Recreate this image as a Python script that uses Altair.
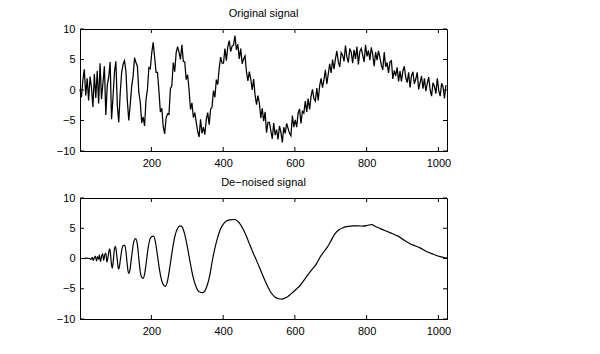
import altair as alt
import pandas as pd

FONT = "Liberation Sans"

# ---- data ----
titles = ["Original signal", "De\u2212noised signal"]
x_ticks = [200, 400, 600, 800, 1000]
y_ticks = [-10, -5, 0, 5, 10]

# noisy original signal, sampled every 4th index (1, 5, 9, ... 1021)
original_signal = [
    0.1, -1.2, 1.6, 3.4, -0.9, 1.9, -1.7, 2.2, 0.4, -2.8, 2.6, -1.3, 3.1, -2.2, 4.4, -1.5,
    1.2, 3.9, -4.1, 0.8, 2.1, 4.6, -4.8, -1.2, 2.9, 4.7, -2.5, -5.3, -0.6, 2.8, 4.2, 4.8,
    3.1, -1.8, -5.0, -2.4, 0.6, 2.2, 5.3, 4.5, 3.9, -0.4, -2.0, -5.4, -4.4, -5.9, -1.6, 0.1,
    3.7, 3.5, 6.1, 7.8, 5.4, 2.9, 2.9, -0.1, -3.6, -3.0, -6.0, -7.2, -4.6, -3.9, -4.0, 0.2,
    0.7, 4.5, 3.0, 6.1, 7.1, 6.2, 5.0, 7.4, 4.7, 4.6, 1.7, 2.5, 0.0, -3.2, -2.1, -4.5,
    -3.7, -5.3, -6.8, -7.7, -4.8, -7.1, -6.1, -7.3, -4.8, -3.7, -5.7, -3.2, -2.8, -0.1, -1.2, 1.7,
    0.9, 3.6, 5.4, 4.4, 4.4, 6.8, 4.8, 7.1, 8.1, 6.3, 7.2, 7.4, 8.9, 6.6, 7.5, 5.1,
    6.8, 4.3, 5.1, 5.6, 3.0, 1.5, 3.0, 1.8, 0.0, 1.8, -0.8, -2.4, -0.9, -2.2, -4.6, -3.0,
    -5.1, -3.6, -7.0, -5.3, -5.3, -6.7, -8.0, -5.4, -7.4, -6.5, -8.1, -5.9, -6.9, -8.6, -6.1, -7.1,
    -5.5, -6.3, -7.1, -7.5, -4.2, -6.1, -4.9, -6.1, -3.8, -3.1, -5.5, -3.5, -3.8, -1.8, -3.6, -1.4,
    -3.2, -1.1, 0.1, -1.4, -1.8, 0.3, -1.7, 0.7, 1.9, 0.4, 1.7, 3.3, 1.0, 2.6, 4.3, 2.8,
    5.0, 3.4, 5.1, 6.4, 4.6, 3.8, 6.1, 5.7, 4.7, 7.3, 5.4, 4.5, 6.8, 6.2, 4.4, 6.6,
    5.1, 7.1, 4.2, 6.3, 6.8, 5.7, 4.6, 7.4, 5.5, 6.5, 4.9, 7.0, 5.8, 3.9, 6.2, 4.9,
    6.4, 5.3, 4.1, 3.3, 6.2, 3.8, 4.5, 2.8, 4.6, 4.8, 1.8, 3.2, 2.3, 3.7, 1.4, 3.1,
    1.4, 3.1, 3.9, 2.0, 1.2, 2.9, 0.4, 2.3, 3.0, 1.0, 1.8, 2.9, 0.1, 1.2, 2.3, 0.2,
    1.9, -0.2, 1.1, 2.1, 0.0, -1.0, 1.2, 0.6, -0.6, 1.9, -0.1, -1.0, 1.1, 0.5, -1.4, 0.8,
]
orig_index = list(range(1, 1024, 4))

# de-noised signal: sample index and value
den_x = [1, 10, 20, 28, 32, 35, 38, 41, 44, 47, 50, 53, 55, 58, 61, 64, 67, 70, 73, 76,
         79, 82, 84, 86, 88, 91, 93, 95, 97, 99.5, 102, 105, 107, 109, 111, 114, 118, 121, 125.6, 129,
         132, 135, 137, 140, 143, 147, 151, 156, 161, 165, 169, 173, 177, 181, 186, 191, 196, 200, 206, 211,
         217, 223, 229, 234, 239, 245, 252, 259, 266, 273, 280, 285, 292, 300, 308, 316, 324, 333, 343, 352,
         362, 371, 382, 393, 405, 418, 432, 445, 458, 470, 483, 495, 507, 520, 532, 545, 555, 563, 575, 590,
         605, 614, 630, 645, 661, 670, 682, 693, 703, 712, 722, 735, 748, 760, 775, 791, 803, 814, 825, 840,
         856, 872, 888, 905, 921, 935, 949, 965, 986, 1005, 1024]
den_y = [0.0, 0.0, 0.05, 0.0, -0.15, 0.2, -0.3, 0.1, 0.4, -0.4, 0.3, -0.1, 0.6, -0.5, 0.3, 0.8, -0.3, 0.6, 0.9, -0.6,
         0.2, 1.3, 1.6, 0.8, -0.6, -1.6, -0.8, 0.4, 1.6, 2.0, 1.3, -0.3, -1.4, -1.75, -1.3, 0.0, 1.6, 2.1, 2.2, 1.2,
         -0.6, -2.1, -2.5, -2.0, -0.6, 1.3, 2.8, 3.3, 2.3, 0.0, -2.2, -3.1, -3.3, -2.6, -0.5, 1.8, 3.2, 3.6, 3.7, 2.8,
         0.5, -2.0, -3.7, -4.4, -4.6, -3.7, -1.2, 1.6, 3.8, 5.0, 5.4, 5.3, 4.2, 2.0, -0.6, -3.0, -4.6, -5.5, -5.65, -5.0,
         -3.0, 0.0, 2.9, 4.9, 6.0, 6.4, 6.45, 5.9, 4.6, 2.9, 1.0, -0.6, -2.3, -4.1, -5.5, -6.4, -6.65, -6.7, -6.5, -5.8,
         -5.0, -4.5, -3.2, -2.0, -0.8, 0.2, 1.2, 2.1, 3.2, 4.1, 4.7, 5.1, 5.3, 5.4, 5.4, 5.35, 5.5, 5.6, 5.3, 4.9,
         4.5, 4.1, 3.7, 3.0, 2.45, 2.1, 1.75, 1.2, 0.7, 0.3, 0.05]

assert len(original_signal) == len(orig_index)
assert len(den_x) == len(den_y)

orig_df = pd.DataFrame({"x": orig_index, "y": original_signal})
den_df = pd.DataFrame({"x": den_x, "y": den_y})
xtick_df = pd.DataFrame({"x": x_ticks})
ytick_df = pd.DataFrame({"y": y_ticks})

W = 367
TICK = 4


def panel(df, title, h, interp, sw):
    xs = alt.Scale(domain=[1, 1024], nice=False, zero=False)
    ys = alt.Scale(domain=[-10, 10], nice=False, zero=False)
    xax = alt.Axis(values=x_ticks, title=None, ticks=False, grid=False, format="d",
                   labelPadding=6, labelFontSize=11, labelFont=FONT,
                   labelColor="black", domainColor="black", labelFlush=False)
    yax = alt.Axis(values=y_ticks, title=None, ticks=False, grid=False,
                   labelExpr="datum.value < 0 ? '\u2212' + abs(datum.value) : datum.label",
                   labelPadding=5, labelFontSize=11, labelFont=FONT,
                   labelColor="black", domainColor="black", labelFlush=False)
    X = alt.X("x:Q", scale=xs, axis=xax)
    Y = alt.Y("y:Q", scale=ys, axis=yax)
    line = alt.Chart(df).mark_line(color="black", strokeWidth=sw, interpolate=interp).encode(x=X, y=Y)
    xt = alt.Chart(xtick_df)
    yt = alt.Chart(ytick_df)
    tick_top = xt.mark_rule(color="black").encode(x=X, y=alt.value(0), y2=alt.value(TICK))
    tick_bot = xt.mark_rule(color="black").encode(x=X, y=alt.value(h - TICK), y2=alt.value(h))
    tick_l = yt.mark_rule(color="black").encode(y=Y, x=alt.value(0), x2=alt.value(TICK))
    tick_r = yt.mark_rule(color="black").encode(y=Y, x=alt.value(W - TICK), x2=alt.value(W))
    return alt.layer(line, tick_top, tick_bot, tick_l, tick_r).properties(
        width=W, height=h,
        title=alt.TitleParams(title, font=FONT, fontSize=11, fontWeight="normal",
                              color="black", offset=4, anchor="middle"),
    )


top = panel(orig_df, titles[0], 122, "linear", 1.25)
bottom = panel(den_df, titles[1], 121, "monotone", 1.2)

chart = alt.vconcat(top, bottom, spacing=7).properties(
    padding={"left": 55, "top": 7, "right": 5, "bottom": 5},
    background="white",
).configure_view(stroke="black", strokeWidth=1).configure_axis(domainWidth=1)

chart.save("out.html", embed_options={"renderer": "svg", "actions": False})
